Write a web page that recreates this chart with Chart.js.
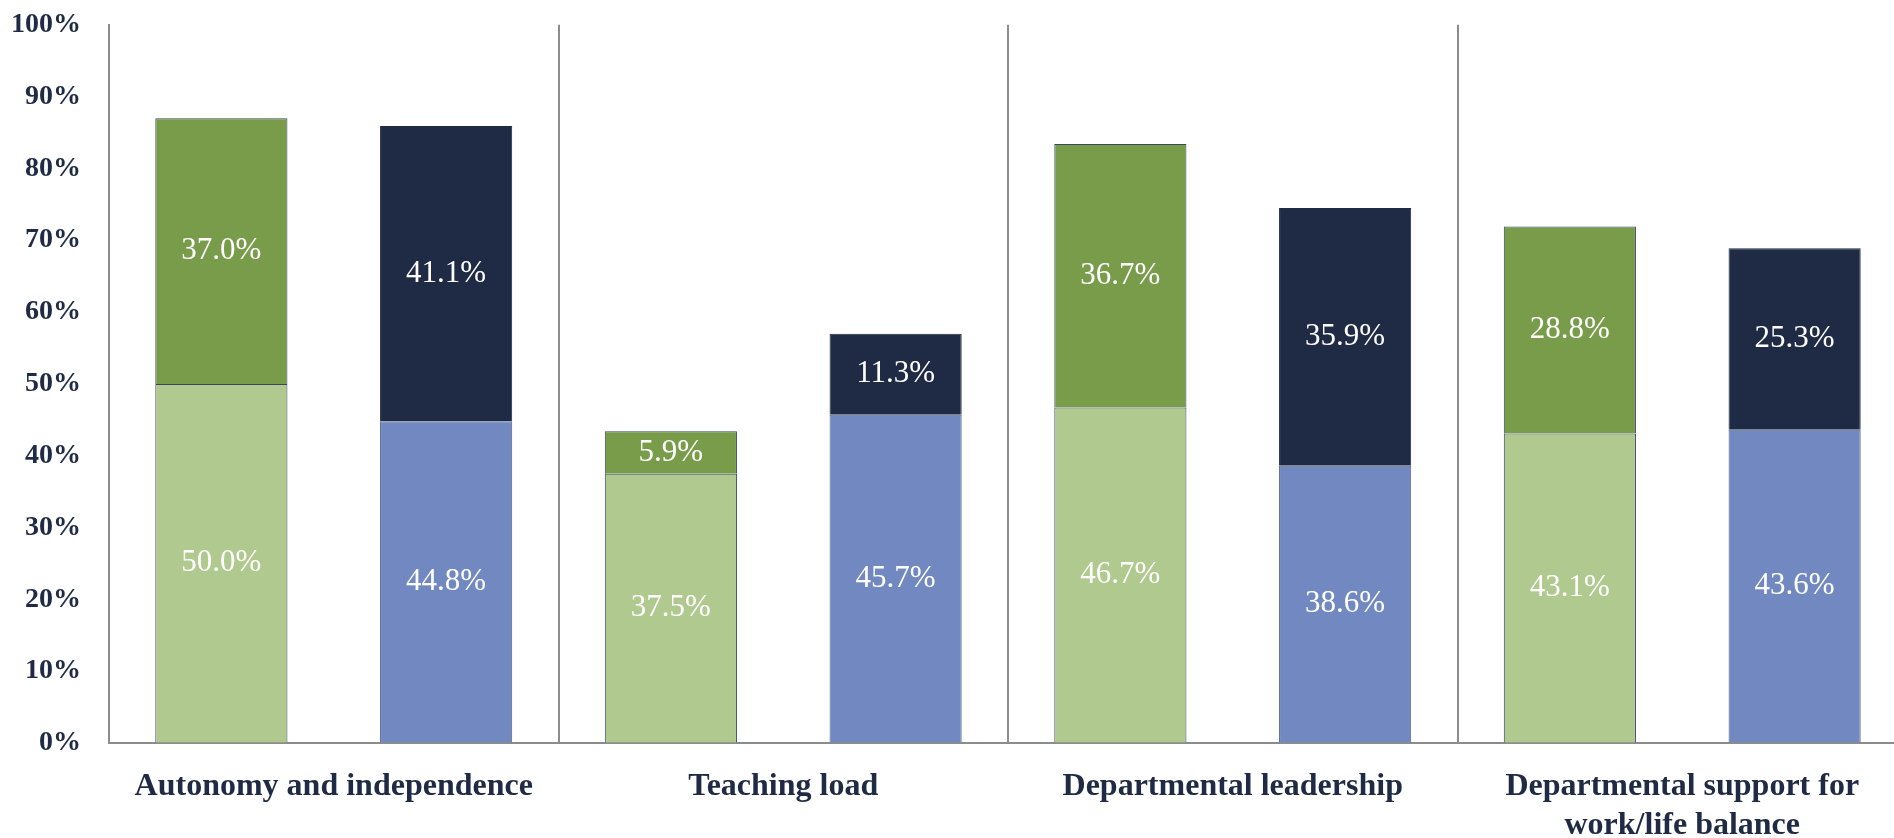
<!DOCTYPE html>
<html>
<head>
<meta charset="utf-8">
<script src="https://cdn.jsdelivr.net/npm/chart.js"></script>
<style>
    html, body { margin: 0; padding: 0; background: #ffffff; overflow: hidden; }
    #wrap { width: 1907px; height: 858px; margin-top: -20px; }
</style>
</head>
<body>
<div id="wrap"><canvas id="chart" width="1907" height="858"></canvas></div>
<script>
// categories and values
const categories = [
    'Autonomy and independence',
    'Teaching load',
    'Departmental leadership',
    ['Departmental support for', 'work/life balance']
];
const greenBase = [50.0, 37.5, 46.7, 43.1];
const greenTop = [37.0, 5.9, 36.7, 28.8];
const blueBase = [44.8, 45.7, 38.6, 43.6];
const navyTop = [41.1, 11.3, 35.9, 25.3];
const yTicks = ['0%', '10%', '20%', '30%', '40%', '50%', '60%', '70%', '80%', '90%', '100%'];

const textColor = '#1f2a44';
const lineGrey = '#8c8c8c';
const serif = '"Liberation Serif", "DejaVu Serif", serif';

// white value labels centred in each segment
const segmentLabels = {
    id: 'segmentLabels',
    afterDatasetsDraw(chart) {
        const ctx = chart.ctx;
        ctx.save();
        ctx.fillStyle = '#ffffff';
        ctx.font = '31px ' + serif;
        ctx.textAlign = 'center';
        ctx.textBaseline = 'middle';
        chart.data.datasets.forEach((ds, i) => {
            const meta = chart.getDatasetMeta(i);
            meta.data.forEach((bar, j) => {
                const y = (bar.y + bar.base) / 2;
                ctx.fillText(ds.data[j].toFixed(1) + '%', bar.x, y);
            });
        });
        ctx.restore();
    }
};

new Chart(document.getElementById('chart').getContext('2d'), {
    type: 'bar',
    data: {
        labels: categories,
        datasets: [
            { data: greenBase, stack: 'a', backgroundColor: '#b0c98e', borderColor: '#3a4560', borderWidth: 1 },
            { data: greenTop, stack: 'a', backgroundColor: '#789c4a', borderColor: '#3a4560', borderWidth: 1 },
            { data: blueBase, stack: 'b', backgroundColor: '#7189c0', borderColor: '#55668f', borderWidth: 1 },
            { data: navyTop, stack: 'b', backgroundColor: '#1f2a44', borderColor: '#1f2a44', borderWidth: 1 }
        ]
    },
    options: {
        responsive: false,
        animation: false,
        devicePixelRatio: 1,
        categoryPercentage: 1.0,
        barPercentage: 0.588,
        layout: { padding: { top: 5, right: 0, left: 0, bottom: 0 } },
        plugins: {
            legend: { display: false },
            tooltip: { enabled: false }
        },
        scales: {
            x: {
                stacked: true,
                offset: true,
                grid: { offset: true, color: lineGrey, lineWidth: 2, drawTicks: false },
                border: { display: true, color: lineGrey, width: 2 },
                ticks: {
                    color: textColor,
                    padding: 24,
                    maxRotation: 0,
                    autoSkip: false,
                    font: { family: serif, size: 32, weight: 'bold', lineHeight: 1.22 }
                },
                afterFit(scale) { scale.height = 95; }
            },
            y: {
                stacked: true,
                min: 0,
                max: 100,
                grid: { drawOnChartArea: false, drawTicks: false },
                border: { display: true, color: lineGrey, width: 2 },
                ticks: {
                    stepSize: 10,
                    color: textColor,
                    padding: 28,
                    font: { family: serif, size: 28, weight: 'bold' },
                    callback: (value) => yTicks[Math.round(value / 10)]
                },
                afterFit(scale) { scale.width = 109; }
            }
        }
    },
    plugins: [segmentLabels]
});
</script>
</body>
</html>
